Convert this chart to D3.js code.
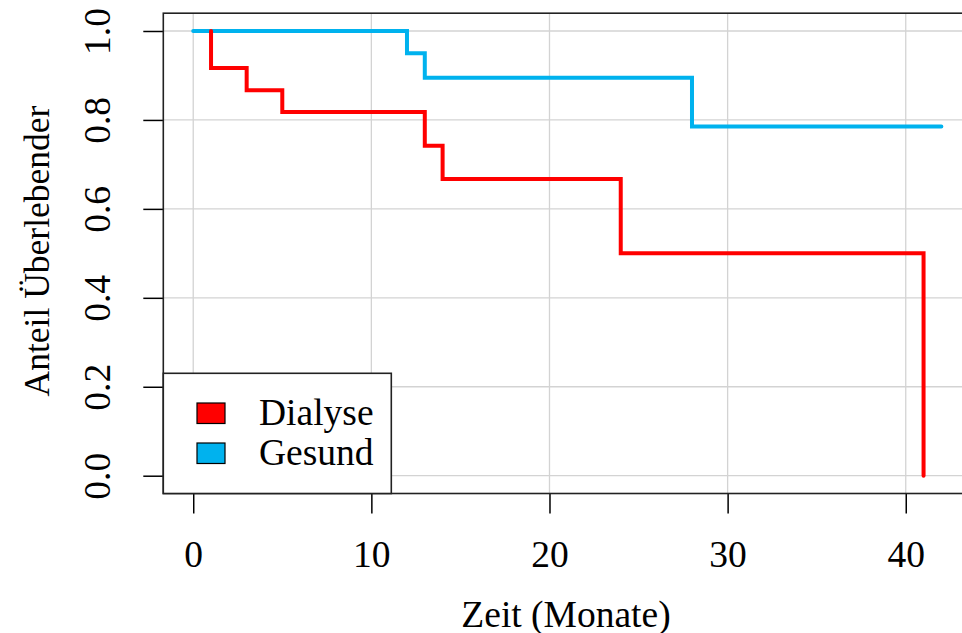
<!DOCTYPE html>
<html lang="de">
<head>
<meta charset="UTF-8">
<title>Überlebenskurven</title>
<style>
  body { margin: 0; background: #fff; }
  svg text { font-family: "Liberation Serif", "Times New Roman", serif; fill: #000; }
  .grid line { stroke: #d3d3d3; stroke-width: 1.3px; }
  .curve { fill: none; stroke-width: 4px; stroke-linejoin: miter; stroke-linecap: round; }
</style>
</head>
<body>
<script src="https://d3js.org/d3.v7.min.js"></script>
<script>
// survival step data
var dialyseTime = [1, 1, 3, 5, 13, 14, 24, 41];
var dialyseSurv = [1.0, 0.917, 0.867, 0.818, 0.742, 0.667, 0.5, 0.0];
var gesundTime = [0, 12, 13, 28, 42];
var gesundSurv = [1.0, 0.95, 0.895, 0.785, 0.785];

var xTicks = [0, 10, 20, 30, 40];
var yTicks = [0, 0.2, 0.4, 0.6, 0.8, 1.0];
var legendNames = ["Dialyse", "Gesund"];
var colors = ["#ff0000", "#00b2ee"];

var W = 962, H = 633;
var pLeft = 163.3, pRight = 971.3, pTop = 13.2, pBottom = 493.5;
var fs = "37.5px";

var svg = d3.select("body").append("svg")
  .attr("width", W).attr("height", H);

// R-style 4% padding around 0..42 and 0..1
var x = d3.scaleLinear().domain([-1.68, 43.68]).range([pLeft, pRight]);
var y = d3.scaleLinear().domain([-0.04, 1.04]).range([pBottom, pTop]);

// grid
var grid = svg.append("g").attr("class", "grid");
grid.selectAll(".gx").data(xTicks).enter().append("line")
  .attr("x1", function(d) { return x(d); }).attr("x2", function(d) { return x(d); })
  .attr("y1", pTop).attr("y2", pBottom);
grid.selectAll(".gy").data(yTicks).enter().append("line")
  .attr("x1", pLeft).attr("x2", pRight)
  .attr("y1", function(d) { return y(d); }).attr("y2", function(d) { return y(d); });

// step curves
function stepPts(t, s) {
  var pts = [];
  for (var i = 0; i < t.length; i++) pts.push([t[i], s[i]]);
  return pts;
}
var line = d3.line()
  .x(function(d) { return x(d[0]); })
  .y(function(d) { return y(d[1]); })
  .curve(d3.curveStepAfter);

svg.append("path").attr("class", "curve")
  .attr("d", line(stepPts(gesundTime, gesundSurv)))
  .attr("stroke", colors[1]);
svg.append("path").attr("class", "curve")
  .attr("d", line(stepPts(dialyseTime, dialyseSurv)))
  .attr("stroke", colors[0]);

// axes
var xAxis = d3.axisBottom(x).tickValues(xTicks).tickSize(20);
var gx = svg.append("g").attr("transform", "translate(0," + pBottom + ")").call(xAxis);
gx.select(".domain").remove();
gx.selectAll("text").attr("y", 73.5).attr("dy", null)
  .style("font-size", fs).style("font-family", "Liberation Serif");
gx.selectAll("line").attr("stroke", "#000").attr("stroke-width", 1.5);

var yAxis = d3.axisLeft(y).tickValues(yTicks).tickSize(20).tickFormat(d3.format(".1f"));
var gy = svg.append("g").attr("transform", "translate(" + pLeft + ",0)").call(yAxis);
gy.select(".domain").remove();
gy.selectAll("line").attr("stroke", "#000").attr("stroke-width", 1.5);
gy.selectAll("text")
  .attr("x", null).attr("y", null).attr("dy", null)
  .attr("text-anchor", "middle")
  .attr("transform", "translate(-53,0) rotate(-90)")
  .style("font-size", fs).style("font-family", "Liberation Serif");

// box
svg.append("rect")
  .attr("x", pLeft).attr("y", pTop)
  .attr("width", pRight - pLeft).attr("height", pBottom - pTop)
  .attr("fill", "none").attr("stroke", "#222").attr("stroke-width", 1.6);

// axis titles
svg.append("text")
  .attr("x", 566).attr("y", 626.5)
  .attr("text-anchor", "middle").style("font-size", fs)
  .text("Zeit (Monate)");
svg.append("text")
  .attr("transform", "translate(49,251) rotate(-90)")
  .attr("text-anchor", "middle").style("font-size", "35.5px")
  .text("Anteil Überlebender");

// legend
var lg = svg.append("g");
lg.append("rect")
  .attr("x", pLeft).attr("y", 373.3)
  .attr("width", 391.3 - pLeft).attr("height", pBottom - 373.3)
  .attr("fill", "#fff").attr("stroke", "#222").attr("stroke-width", 1.6);
var items = lg.selectAll(".item").data(legendNames).enter().append("g")
  .attr("transform", function(d, i) { return "translate(0," + (i * 40) + ")"; });
items.append("rect")
  .attr("x", 197).attr("y", 403).attr("width", 28).attr("height", 20.5)
  .attr("fill", function(d, i) { return colors[i]; })
  .attr("stroke", "#000").attr("stroke-width", 1.2);
items.append("text")
  .attr("x", 259).attr("y", 425)
  .style("font-size", fs)
  .text(function(d) { return d; });
</script>
</body>
</html>
